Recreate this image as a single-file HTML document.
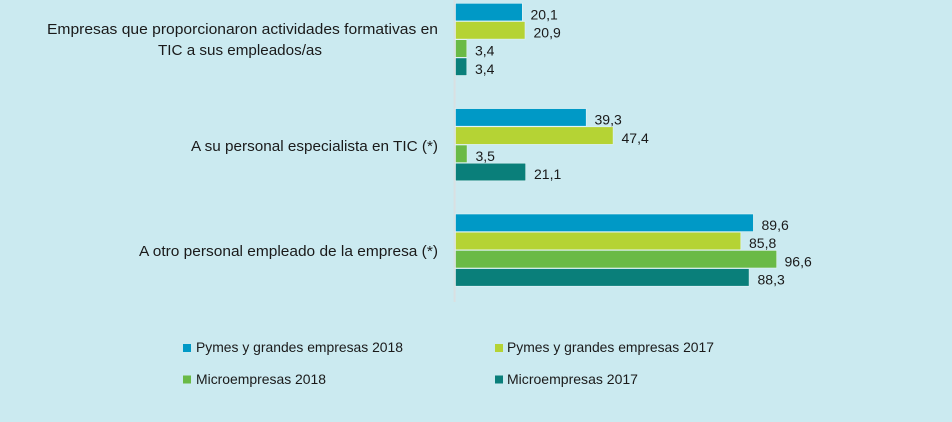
<!DOCTYPE html>
<html><head><meta charset="utf-8"><style>
html,body{margin:0;padding:0;background:#cbeaf0;}
svg{display:block;}
text{font-family:"Liberation Sans",sans-serif;fill:#1a1a1a;}
</style></head><body>
<svg width="952" height="422" viewBox="0 0 952 422" xmlns="http://www.w3.org/2000/svg">
<rect width="952" height="422" fill="#cbeaf0"/>
<line x1="454.6" y1="0" x2="454.6" y2="302" stroke="#d9e0e2" stroke-width="2"/>
<g stroke="#e3f4f7" stroke-width="0.6">
<rect x="455.5" y="3.3" width="66.8" height="17.6" fill="#0099c6"/>
<rect x="455.5" y="21.5" width="69.5" height="17.6" fill="#b5d334"/>
<rect x="455.5" y="39.7" width="11.3" height="17.6" fill="#6aba46"/>
<rect x="455.5" y="57.9" width="11.3" height="17.6" fill="#0a7f7a"/>
<rect x="455.5" y="108.6" width="130.7" height="17.6" fill="#0099c6"/>
<rect x="455.5" y="126.8" width="157.6" height="17.6" fill="#b5d334"/>
<rect x="455.5" y="145.0" width="11.6" height="17.6" fill="#6aba46"/>
<rect x="455.5" y="163.2" width="70.2" height="17.6" fill="#0a7f7a"/>
<rect x="455.5" y="214.0" width="297.9" height="17.6" fill="#0099c6"/>
<rect x="455.5" y="232.2" width="285.3" height="17.6" fill="#b5d334"/>
<rect x="455.5" y="250.4" width="321.2" height="17.6" fill="#6aba46"/>
<rect x="455.5" y="268.6" width="293.6" height="17.6" fill="#0a7f7a"/>
</g>
<g font-size="14">
<text x="530.5" y="19.3">20,1</text>
<text x="533.5" y="37.5">20,9</text>
<text x="475" y="55.7">3,4</text>
<text x="475" y="73.9">3,4</text>
<text x="594.5" y="124.6">39,3</text>
<text x="621.5" y="142.8">47,4</text>
<text x="475.5" y="161">3,5</text>
<text x="534" y="179.2">21,1</text>
<text x="761.5" y="230">89,6</text>
<text x="749" y="248.2">85,8</text>
<text x="784.5" y="266.4">96,6</text>
<text x="757.5" y="284.6">88,3</text>
</g>
<g font-size="15">
<text x="47" y="34" textLength="391" lengthAdjust="spacingAndGlyphs">Empresas que proporcionaron actividades formativas en</text>
<text x="158" y="55" textLength="164" lengthAdjust="spacingAndGlyphs">TIC a sus empleados/as</text>
<text x="191" y="151" textLength="247" lengthAdjust="spacingAndGlyphs">A su personal especialista en TIC (*)</text>
<text x="139" y="256" textLength="299" lengthAdjust="spacingAndGlyphs">A otro personal empleado de la empresa (*)</text>
</g>
<rect x="183" y="344" width="8" height="8" fill="#0099c6"/>
<rect x="495" y="344" width="8" height="8" fill="#b5d334"/>
<rect x="183" y="375.5" width="8" height="8" fill="#6aba46"/>
<rect x="495" y="375.5" width="8" height="8" fill="#0a7f7a"/>
<g font-size="14">
<text x="196" y="352" textLength="207" lengthAdjust="spacingAndGlyphs">Pymes y grandes empresas 2018</text>
<text x="507" y="352" textLength="207" lengthAdjust="spacingAndGlyphs">Pymes y grandes empresas 2017</text>
<text x="196" y="384" textLength="130" lengthAdjust="spacingAndGlyphs">Microempresas 2018</text>
<text x="507" y="384" textLength="131" lengthAdjust="spacingAndGlyphs">Microempresas 2017</text>
</g>
</svg>
</body></html>
